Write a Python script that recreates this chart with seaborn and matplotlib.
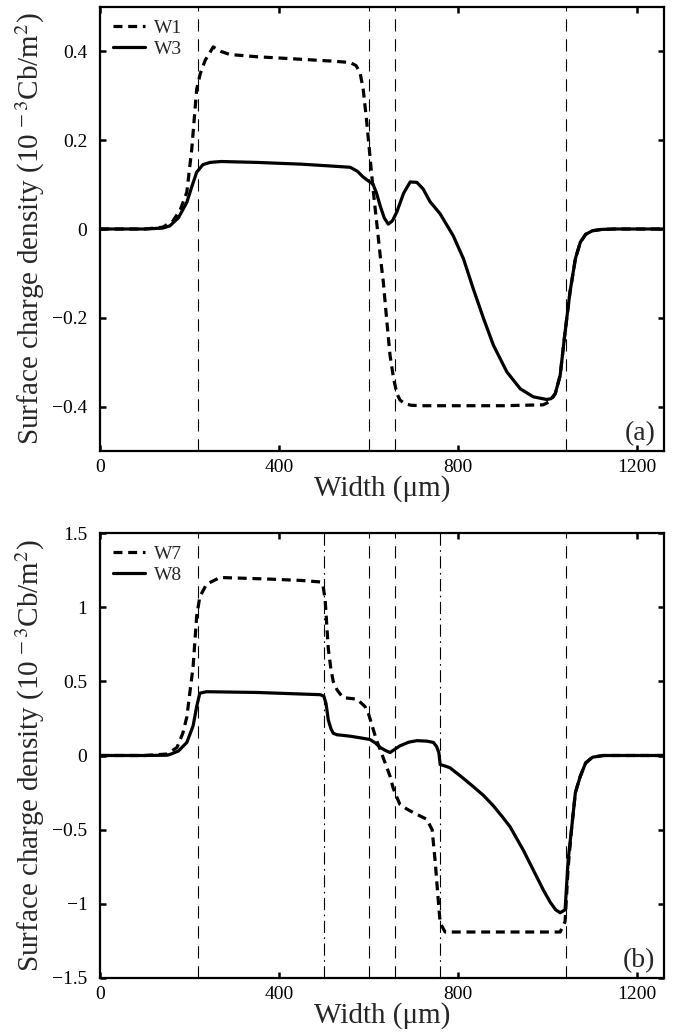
import numpy as np
import pandas as pd
import matplotlib
matplotlib.use("Agg")
import matplotlib.pyplot as plt
import seaborn as sns

# ---------------- data ----------------
# Panel (a)
w1_x = [0, 100, 140, 163, 180, 194, 205, 216, 224, 235, 253, 270, 290, 350, 420, 521, 559, 572,
        581, 588, 596, 603, 610, 618, 626, 633, 641, 648, 656, 663, 670, 680, 695, 720, 811, 900,
        990, 1006, 1017, 1028, 1039, 1050, 1062, 1073, 1085, 1100, 1120, 1150, 1260]
w1_y = [0, 0, 0.004, 0.018, 0.045, 0.083, 0.18, 0.315, 0.35, 0.38, 0.41, 0.40, 0.393, 0.388,
        0.384, 0.378, 0.375, 0.368, 0.352, 0.315, 0.24, 0.165, 0.09, 0.016, -0.06, -0.12, -0.21,
        -0.285, -0.337, -0.37, -0.385, -0.393, -0.397, -0.398, -0.398, -0.398, -0.396, -0.388,
        -0.371, -0.33, -0.232, -0.142, -0.067, -0.03, -0.012, -0.004, -0.001, 0, 0]

w3_x = [0, 100, 140, 156, 175, 194, 205, 216, 230, 246, 270, 350, 450, 514, 559, 575, 588, 600,
        610, 618, 626, 635, 644, 653, 663, 678, 693, 708, 722, 737, 760, 789, 812, 834, 857, 879,
        909, 939, 968, 998, 1008, 1017, 1028, 1039, 1050, 1062, 1073, 1085, 1100, 1120, 1150, 1260]
w3_y = [0, 0, 0.002, 0.007, 0.025, 0.06, 0.095, 0.128, 0.145, 0.15, 0.152, 0.15, 0.146, 0.142,
        0.139, 0.13, 0.117, 0.108, 0.101, 0.08, 0.052, 0.025, 0.011, 0.018, 0.038, 0.08, 0.106,
        0.105, 0.09, 0.062, 0.034, -0.015, -0.067, -0.135, -0.202, -0.262, -0.322, -0.36, -0.378,
        -0.384, -0.382, -0.371, -0.33, -0.232, -0.142, -0.067, -0.03, -0.012, -0.004, -0.001, 0, 0]

# Panel (b)
w7_x = [0, 100, 150, 172, 185, 194, 208, 216, 223, 238, 268, 373, 450, 492, 498, 503, 510, 516,
        521, 530, 543, 574, 592, 600, 608, 618, 626, 637, 648, 655, 663, 670, 685, 700, 730,
        742, 749, 755, 760, 771, 900, 1028, 1039, 1046, 1054, 1062, 1073, 1085, 1100, 1124, 1260]
w7_y = [0, 0, 0.01, 0.054, 0.15, 0.26, 0.6, 0.94, 1.07, 1.155, 1.2, 1.19, 1.18, 1.17, 1.15, 1.05,
        0.72, 0.58, 0.5, 0.44, 0.39, 0.38, 0.33, 0.28, 0.2, 0.1, 0.04, -0.05, -0.14, -0.22,
        -0.28, -0.33, -0.36, -0.385, -0.43, -0.5, -0.72, -0.95, -1.13, -1.19, -1.19, -1.19,
        -1.12, -0.75, -0.48, -0.25, -0.14, -0.05, -0.012, 0, 0]

w8_x = [0, 100, 150, 156, 175, 194, 208, 216, 223, 238, 350, 492, 500, 505, 510, 516, 521, 529,
        545, 559, 580, 603, 615, 626, 637, 648, 660, 670, 690, 708, 730, 745, 752, 757, 760,
        770, 782, 808, 834, 857, 879, 898, 916, 931, 946, 961, 976, 991, 1006, 1018, 1028, 1039,
        1046, 1054, 1062, 1073, 1085, 1100, 1124, 1260]
w8_y = [0, 0, 0.002, 0.007, 0.03, 0.088, 0.2, 0.33, 0.42, 0.43, 0.425, 0.41, 0.40, 0.35, 0.24,
        0.18, 0.15, 0.14, 0.135, 0.13, 0.12, 0.108, 0.085, 0.054, 0.035, 0.02, 0.045, 0.065,
        0.09, 0.10, 0.097, 0.088, 0.06, 0.02, -0.061, -0.07, -0.083, -0.145, -0.21, -0.27,
        -0.34, -0.41, -0.48, -0.56, -0.64, -0.73, -0.82, -0.91, -0.99, -1.04, -1.06, -1.04,
        -0.70, -0.48, -0.25, -0.14, -0.05, -0.012, 0, 0]

vlines_a_dashed = [220, 600, 660, 1040]
vlines_b_dashed = [220, 600, 660, 1040]
vlines_b_dashdot = [500, 760]

xticks = [0, 400, 800, 1200]
yticks_a = [-0.4, -0.2, 0, 0.2, 0.4]
ytick_labels_a = ["\u22120.4", "\u22120.2", "0", "0.2", "0.4"]
yticks_b = [-1.5, -1, -0.5, 0, 0.5, 1, 1.5]
ytick_labels_b = ["\u22121.5", "\u22121", "\u22120.5", "0", "0.5", "1", "1.5"]

xlabel = "Width (\u03bcm)"
ylabel = r"Surface charge density (10$^{\,-3}$Cb/m$^{2}$)"

# ---------------- style ----------------
sns.set_style("ticks")
plt.rcParams["font.family"] = ["Liberation Serif", "DejaVu Serif"]
plt.rcParams["mathtext.fontset"] = "stix"
plt.rcParams["axes.unicode_minus"] = True

fig = plt.figure(figsize=(6.74, 10.34), dpi=100)
left, right = 100 / 674, 664 / 674
ax_a = fig.add_axes([left, 1 - 451 / 1034, right - left, (451 - 7) / 1034])
ax_b = fig.add_axes([left, 1 - 978 / 1034, right - left, (978 - 533) / 1034])

DATA_LW = 2.3
DASH = (0, (2.8, 1.8))
VDASH = (0, (11, 7))
VDASHDOT = (0, (11, 4, 1.5, 4))


def style_axes(ax, yticks, ylabels, ylim, tag):
    ax.set_xlim(0, 1260)
    ax.set_ylim(*ylim)
    ax.set_xticks(xticks)
    ax.set_xticklabels([str(t) for t in xticks])
    ax.set_yticks(yticks)
    ax.set_yticklabels(ylabels)
    for s in ax.spines.values():
        s.set_visible(True)
        s.set_linewidth(1.6)
        s.set_color("black")
    ax.tick_params(direction="in", length=4.5, width=1.8, top=True, right=True,
                   labelsize=14, colors="black")
    ax.tick_params(axis="y", pad=9)
    ax.tick_params(axis="x", pad=6)
    ax.set_xlabel(xlabel, fontsize=21, labelpad=-1)
    ax.set_ylabel(ylabel, fontsize=21, labelpad=4)
    ax.text(0.985, 0.012, tag, transform=ax.transAxes, ha="right", va="bottom", fontsize=20)


def add_legend(ax):
    ax.legend(loc="upper left", frameon=False, fontsize=14, handlelength=1.65,
              handletextpad=0.5, labelspacing=0.15, borderaxespad=0.25,
              bbox_to_anchor=(0.0, 1.0))


# Panel (a)
for xv in vlines_a_dashed:
    ax_a.axvline(xv, color="black", lw=0.8, linestyle=VDASH, zorder=1)
sns.lineplot(x=w1_x, y=w1_y, ax=ax_a, color="black", lw=DATA_LW, linestyle=DASH,
             label="W1", estimator=None, sort=False)
sns.lineplot(x=w3_x, y=w3_y, ax=ax_a, color="black", lw=DATA_LW, linestyle="-",
             label="W3", estimator=None, sort=False)
style_axes(ax_a, yticks_a, ytick_labels_a, (-0.5, 0.5), "(a)")
add_legend(ax_a)

# Panel (b)
for xv in vlines_b_dashed:
    ax_b.axvline(xv, color="black", lw=0.8, linestyle=VDASH, zorder=1)
for xv in vlines_b_dashdot:
    ax_b.axvline(xv, color="black", lw=0.8, linestyle=VDASHDOT, zorder=1)
sns.lineplot(x=w7_x, y=w7_y, ax=ax_b, color="black", lw=DATA_LW, linestyle=DASH,
             label="W7", estimator=None, sort=False)
sns.lineplot(x=w8_x, y=w8_y, ax=ax_b, color="black", lw=DATA_LW, linestyle="-",
             label="W8", estimator=None, sort=False)
style_axes(ax_b, yticks_b, ytick_labels_b, (-1.5, 1.5), "(b)")
add_legend(ax_b)

fig.savefig("out.png", dpi=100)
